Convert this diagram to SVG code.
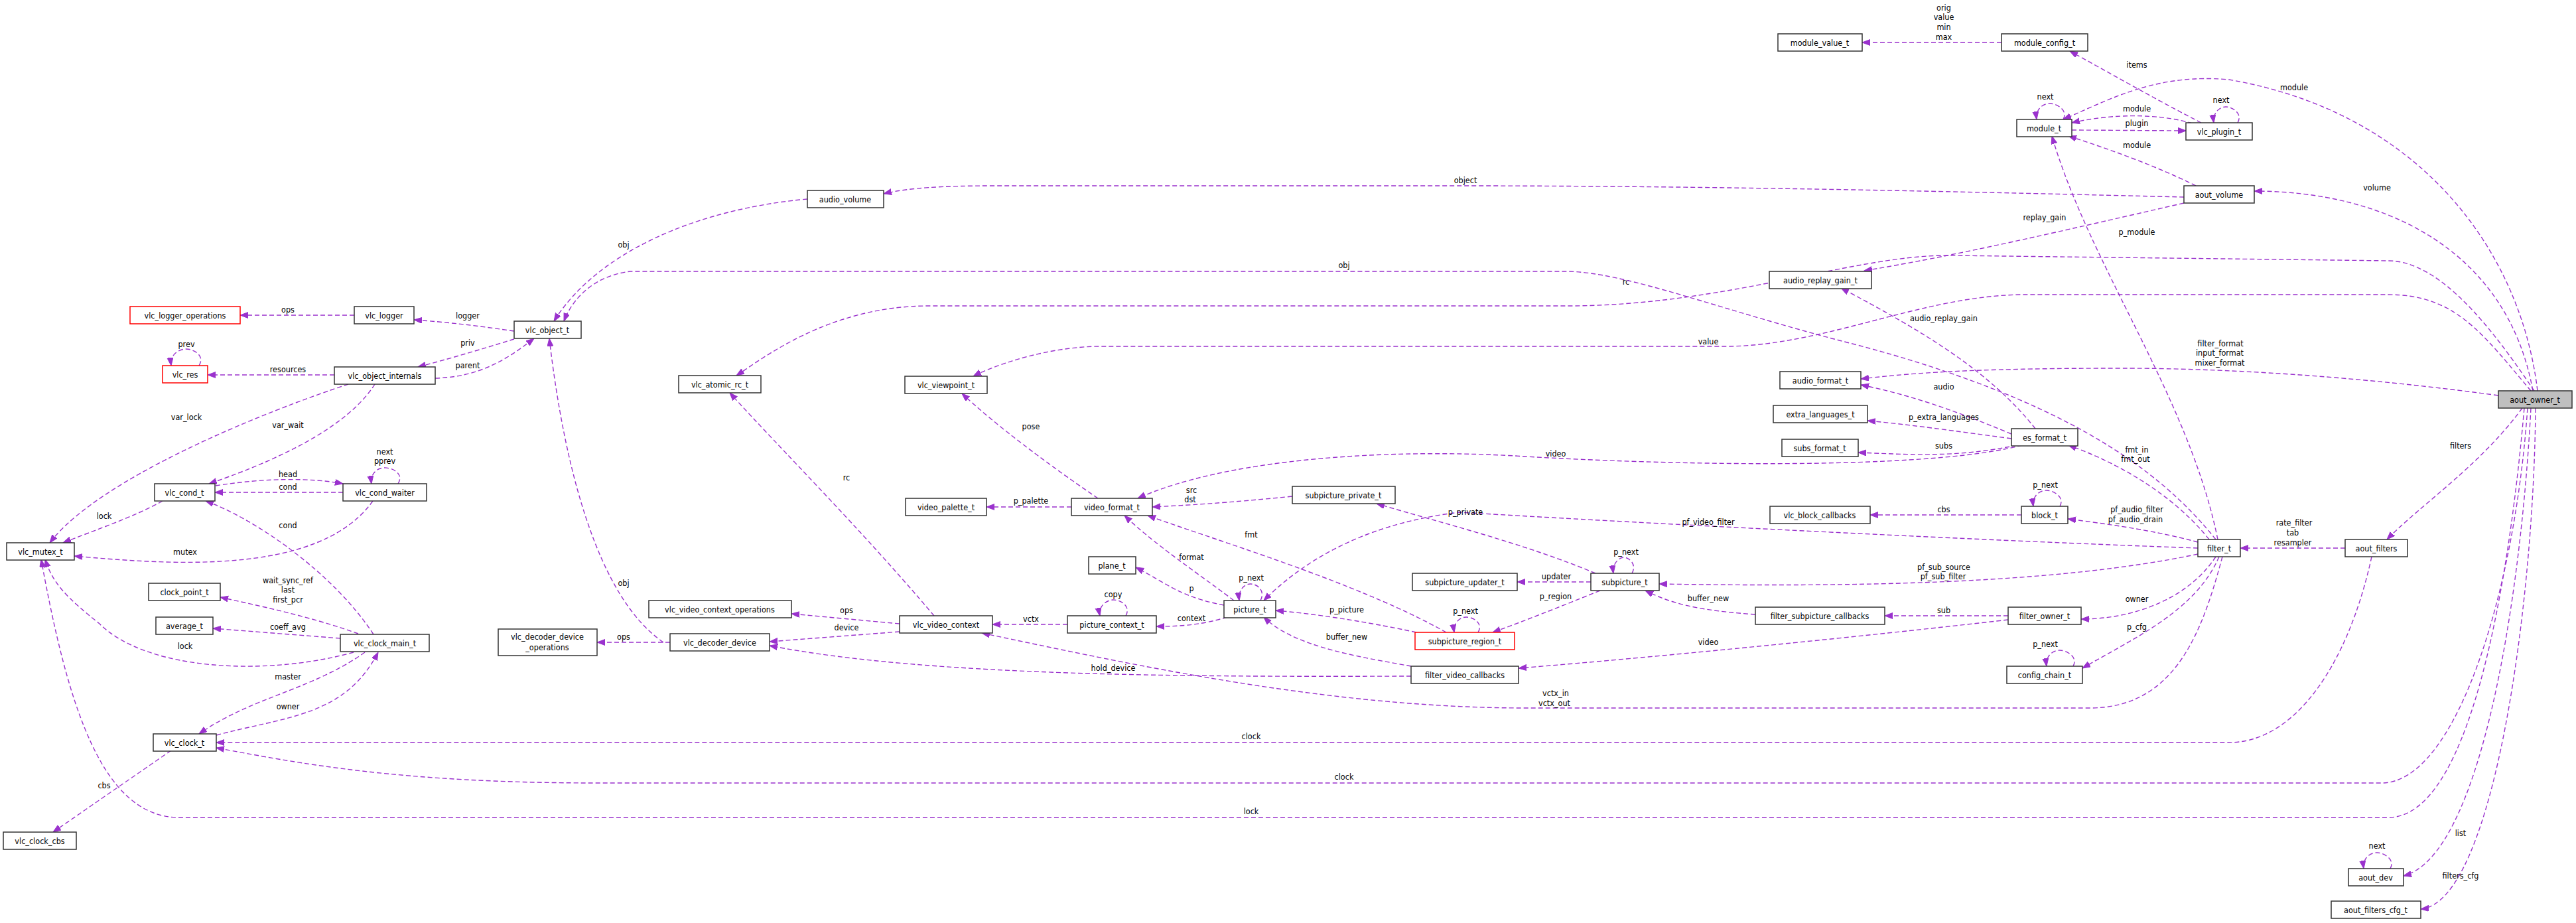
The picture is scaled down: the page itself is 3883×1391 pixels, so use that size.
<svg xmlns="http://www.w3.org/2000/svg" width="3883" height="1391" viewBox="0 0 3883 1391">
<style>
.n rect{fill:#fff;stroke:#333;stroke-width:1.5}
.r rect{stroke:#f00}
.g rect{fill:#bfbfbf}
text{font-family:"DejaVu Sans Condensed","DejaVu Sans","Liberation Sans",sans-serif;font-size:12.5px;fill:#000;text-anchor:middle}
#edges path{fill:none;stroke:#9a32cd;stroke-width:1.4;stroke-dasharray:7,4;marker-end:url(#ah)}
</style>
<defs><marker id="ah" markerUnits="userSpaceOnUse" markerWidth="13" markerHeight="10" refX="12" refY="4.5" orient="auto"><path d="M0,0 L12,4.5 L0,9 z" fill="#9a32cd" stroke="#9a32cd"/></marker></defs>
<rect width="3883" height="1391" fill="#fff"/>
<g id="edges">
<path d="M534,475 L362,475"/><text x="434" y="471">ops</text>
<path d="M775,499 C720,491 680,486 624,482"/><text x="705" y="480">logger</text>
<path d="M775,511 C730,525 680,540 630,553"/><text x="705" y="521">priv</text>
<path d="M656,570 C720,568 760,545 805,510"/><text x="705" y="555">parent</text>
<path d="M504,565 L313,565"/><text x="434" y="561">resources</text>
<path d="M300,551 C310,535 290,525 279,526 C268,527 256,535 258,551"/><text x="281" y="523">prev</text>
<path d="M525,579 C400,620 150,720 75,818"/><text x="281" y="633">var_lock</text>
<path d="M565,579 C520,650 400,700 315,729"/><text x="434" y="645">var_wait</text>
<path d="M600,729 C610,713 590,704 578,705 C567,706 558,715 560,729"/><text x="580" y="685">next</text><text x="580" y="699">pprev</text>
<path d="M325,732 C400,720 470,720 517,729"/><text x="434" y="719">head</text>
<path d="M517,742 L324,742"/><text x="434" y="738">cond</text>
<path d="M245,755 C200,780 140,800 95,818"/><text x="157" y="782">lock</text>
<path d="M562,755 C480,870 250,850 112,838"/><text x="279" y="836">mutex</text>
<path d="M563,956 C500,860 380,780 310,755"/><text x="434" y="796">cond</text>
<path d="M540,955 C470,930 400,915 332,900"/><text x="434" y="879">wait_sync_ref</text><text x="434" y="893">last</text><text x="434" y="908">first_pcr</text>
<path d="M513,962 L321,947"/><text x="434" y="949">coeff_avg</text>
<path d="M533,983 C400,1020 220,1010 150,940 C100,900 80,880 68,843"/><text x="279" y="978">lock</text>
<path d="M550,983 C470,1040 380,1050 300,1106"/><text x="434" y="1024">master</text>
<path d="M326,1108 C430,1080 520,1080 570,983"/><text x="434" y="1069">owner</text>
<path d="M258,1131 L80,1254"/><text x="157" y="1188">cbs</text>
<path d="M1000,968 C900,900 850,700 828,510"/><text x="940" y="883">obj</text>
<path d="M1010,968 L900,968"/><text x="940" y="964">ops</text>
<path d="M1217,300 C1050,315 900,380 835,484"/><text x="940" y="373">obj</text>
<path d="M3292,297 C3000,290 2600,280 2200,280 L1500,280 C1420,280 1370,283 1332,292"/><text x="2209" y="276">object</text>
<path d="M3820,589 C3760,500 3680,393 3600,393 L2940,385 C2800,383 2600,461 2363,461 L1400,461 C1250,461 1150,540 1110,566"/><text x="2451" y="429">rc</text>
<path d="M3340,813 C3250,700 3100,600 2800,520 C2600,470 2450,409 2360,409 L950,409 C900,415 865,445 850,484"/><text x="2026" y="404">obj</text>
<path d="M3815,589 C3740,500 3700,444 3600,444 L3053,444 C2900,444 2750,522 2600,522 L1660,522 C1580,522 1500,550 1467,567"/><text x="2575" y="519">value</text>
<path d="M3825,589 C3800,380 3650,170 3360,120 C3250,110 3180,150 3110,180"/><text x="3458" y="136">module</text>
<path d="M3818,589 C3780,380 3600,288 3398,288"/><text x="3583" y="287">volume</text>
<path d="M3766,596 C3500,560 3300,555 3200,555 C3000,555 2900,560 2805,571"/><text x="3347" y="522">filter_format</text><text x="3346" y="536">input_format</text><text x="3346" y="551">mixer_format</text>
<path d="M3802,615 C3740,700 3650,760 3598,813"/><text x="3709" y="676">filters</text>
<path d="M3810,615 C3790,900 3700,1180 3590,1180 L900,1180 C600,1180 450,1150 326,1127"/><text x="2026" y="1175">clock</text>
<path d="M3805,615 C3780,900 3720,1232 3600,1232 L270,1232 C150,1232 100,1050 62,843"/><text x="1886" y="1227">lock</text>
<path d="M3815,615 C3800,900 3740,1290 3623,1320"/><text x="3709" y="1260">list</text>
<path d="M3822,615 C3820,900 3760,1360 3649,1370"/><text x="3709" y="1324">filters_cfg</text>
<path d="M3575,839 C3540,1000 3460,1119 3360,1119 L326,1119"/><text x="1886" y="1114">clock</text>
<path d="M3535,826 L3377,826"/><text x="3458" y="792">rate_filter</text><text x="3456" y="807">tab</text><text x="3456" y="822">resampler</text>
<path d="M3343,813 C3300,600 3150,400 3093,205"/><text x="3221" y="354">p_module</text>
<path d="M3330,813 C3280,750 3200,700 3118,671"/><text x="3221" y="682">fmt_in</text><text x="3219" y="696">fmt_out</text>
<path d="M3313,817 C3250,800 3180,790 3117,782"/><text x="3221" y="772">pf_audio_filter</text><text x="3219" y="787">pf_audio_drain</text>
<path d="M3313,826 C3000,815 2500,790 2200,772 C2050,790 1960,850 1905,905"/><text x="2575" y="791">pf_video_filter</text>
<path d="M3313,835 C3100,880 2800,885 2501,880"/><text x="2930" y="859">pf_sub_source</text><text x="2929" y="873">pf_sub_filter</text>
<path d="M3340,839 C3300,900 3220,933 3137,933"/><text x="3221" y="907">owner</text>
<path d="M3345,839 C3310,920 3220,960 3139,1007"/><text x="3221" y="949">p_cfg</text>
<path d="M3350,839 C3320,950 3280,1067 3150,1067 L2300,1067 C2000,1067 1700,1000 1480,954"/><text x="2345" y="1049">vctx_in</text><text x="2343" y="1064">vctx_out</text>
<path d="M3032,654 C2950,620 2880,595 2805,580"/><text x="2930" y="587">audio</text>
<path d="M3032,661 C2950,650 2880,640 2815,634"/><text x="2930" y="633">p_extra_languages</text>
<path d="M3040,671 C2950,690 2880,685 2801,682"/><text x="2930" y="676">subs</text>
<path d="M3048,671 C2900,710 2500,700 2300,688 C2100,675 1850,690 1715,751"/><text x="2345" y="688">video</text>
<path d="M3068,646 C3000,560 2900,500 2775,434"/><text x="2930" y="484">audio_replay_gain</text>
<path d="M3027,928 L2841,928"/><text x="2930" y="924">sub</text>
<path d="M3027,934 C2800,960 2500,990 2289,1007"/><text x="2575" y="972">video</text>
<path d="M2646,926 C2560,920 2520,910 2480,890"/><text x="2575" y="906">buffer_new</text>
<path d="M2127,1004 C2050,990 1950,975 1905,930"/><text x="2030" y="964">buffer_new</text>
<path d="M2127,1019 C1800,1020 1400,1020 1160,973"/><text x="1678" y="1011">hold_device</text>
<path d="M2405,864 C2300,820 2180,790 2075,759"/><text x="2209" y="776">p_private</text>
<path d="M2398,877 L2287,877"/><text x="2346" y="873">updater</text>
<path d="M2412,890 C2350,915 2300,935 2250,953"/><text x="2345" y="903">p_region</text>
<path d="M2460,864 C2468,850 2455,840 2448,840 C2440,840 2430,850 2432,864"/><text x="2451" y="836">p_next</text>
<path d="M2228,953 C2236,940 2222,930 2210,930 C2200,930 2190,940 2192,953"/><text x="2209" y="925">p_next</text>
<path d="M2135,953 C2050,935 1980,925 1923,920"/><text x="2030" y="923">p_picture</text>
<path d="M2180,953 C2050,880 1850,820 1730,777"/><text x="1886" y="810">fmt</text>
<path d="M1948,748 C1850,758 1780,762 1737,764"/><text x="1796" y="743">src</text><text x="1794" y="757">dst</text>
<path d="M1615,764 L1487,764"/><text x="1554" y="759">p_palette</text>
<path d="M1655,751 C1580,700 1500,640 1450,593"/><text x="1554" y="647">pose</text>
<path d="M1860,905 C1800,860 1740,820 1695,777"/><text x="1796" y="844">format</text>
<path d="M1845,912 C1780,900 1760,880 1712,855"/><text x="1796" y="891">p</text>
<path d="M1900,905 C1908,890 1895,880 1885,880 C1875,880 1866,890 1868,905"/><text x="1886" y="875">p_next</text>
<path d="M1850,930 C1810,942 1780,944 1743,944"/><text x="1796" y="936">context</text>
<path d="M1697,928 C1705,914 1690,904 1678,904 C1668,904 1655,914 1658,928"/><text x="1678" y="900">copy</text>
<path d="M1609,941 L1496,941"/><text x="1554" y="937">vctx</text>
<path d="M1356,940 L1193,925"/><text x="1276" y="924">ops</text>
<path d="M1356,952 L1160,967"/><text x="1276" y="950">device</text>
<path d="M1408,928 C1300,800 1180,680 1100,592"/><text x="1276" y="724">rc</text>
<path d="M3110,180 C3118,166 3100,156 3090,156 C3078,156 3068,166 3070,180"/><text x="3083" y="150">next</text>
<path d="M3373,185 C3381,171 3365,161 3355,161 C3345,161 3335,171 3337,185"/><text x="3348" y="155">next</text>
<path d="M3123,196 L3295,197"/><text x="3221" y="190">plugin</text>
<path d="M3305,186 C3250,170 3180,172 3123,185"/><text x="3221" y="168">module</text>
<path d="M3318,185 C3250,150 3180,110 3120,77"/><text x="3221" y="102">items</text>
<path d="M3017,64 L2807,64"/><text x="2930" y="16">orig</text><text x="2930" y="30">value</text><text x="2930" y="45">min</text><text x="2930" y="60">max</text>
<path d="M3310,280 C3250,250 3180,225 3118,205"/><text x="3221" y="223">module</text>
<path d="M3292,306 C3100,350 2950,385 2810,408"/><text x="3082" y="332">replay_gain</text>
<path d="M3105,763 C3113,749 3095,739 3085,739 C3073,739 3063,749 3065,763"/><text x="3083" y="735">p_next</text>
<path d="M3047,776 L2819,776"/><text x="2930" y="772">cbs</text>
<path d="M3125,1004 C3133,990 3115,980 3105,980 C3093,980 3083,990 3085,1004"/><text x="3083" y="975">p_next</text>
<path d="M3603,1309 C3611,1295 3593,1285 3583,1285 C3571,1285 3561,1295 3563,1309"/><text x="3583" y="1279">next</text>
</g>
<g id="vlc_logger_operations" class="n r"><rect x="196" y="462" width="166" height="26"/><text x="279" y="480">vlc_logger_operations</text></g>
<g id="vlc_logger" class="n"><rect x="534" y="462" width="90" height="26"/><text x="579" y="480">vlc_logger</text></g>
<g id="vlc_object_t" class="n"><rect x="775" y="484" width="101" height="26"/><text x="825" y="502">vlc_object_t</text></g>
<g id="vlc_res" class="n r"><rect x="245" y="551" width="68" height="26"/><text x="279" y="569">vlc_res</text></g>
<g id="vlc_object_internals" class="n"><rect x="504" y="553" width="152" height="26"/><text x="580" y="571">vlc_object_internals</text></g>
<g id="vlc_cond_t" class="n"><rect x="233" y="729" width="91" height="26"/><text x="278" y="747">vlc_cond_t</text></g>
<g id="vlc_cond_waiter" class="n"><rect x="517" y="729" width="126" height="26"/><text x="580" y="747">vlc_cond_waiter</text></g>
<g id="vlc_mutex_t" class="n"><rect x="10" y="818" width="102" height="26"/><text x="61" y="836">vlc_mutex_t</text></g>
<g id="clock_point_t" class="n"><rect x="224" y="879" width="108" height="26"/><text x="278" y="897">clock_point_t</text></g>
<g id="average_t" class="n"><rect x="235" y="930" width="86" height="26"/><text x="278" y="948">average_t</text></g>
<g id="vlc_clock_main_t" class="n"><rect x="513" y="956" width="134" height="26"/><text x="580" y="974">vlc_clock_main_t</text></g>
<g id="vlc_decoder_device_operations" class="n"><rect x="751" y="948" width="149" height="40"/><text x="825" y="964">vlc_decoder_device</text><text x="825" y="980">_operations</text></g>
<g id="vlc_clock_t" class="n"><rect x="231" y="1106" width="95" height="26"/><text x="278" y="1124">vlc_clock_t</text></g>
<g id="vlc_clock_cbs" class="n"><rect x="5" y="1254" width="110" height="26"/><text x="60" y="1272">vlc_clock_cbs</text></g>
<g id="audio_volume" class="n"><rect x="1217" y="287" width="115" height="26"/><text x="1274" y="305">audio_volume</text></g>
<g id="vlc_atomic_rc_t" class="n"><rect x="1023" y="566" width="124" height="26"/><text x="1085" y="584">vlc_atomic_rc_t</text></g>
<g id="vlc_viewpoint_t" class="n"><rect x="1364" y="567" width="124" height="26"/><text x="1426" y="585">vlc_viewpoint_t</text></g>
<g id="video_palette_t" class="n"><rect x="1365" y="751" width="122" height="26"/><text x="1426" y="769">video_palette_t</text></g>
<g id="video_format_t" class="n"><rect x="1615" y="751" width="122" height="26"/><text x="1676" y="769">video_format_t</text></g>
<g id="plane_t" class="n"><rect x="1641" y="839" width="71" height="26"/><text x="1676" y="857">plane_t</text></g>
<g id="picture_t" class="n"><rect x="1845" y="905" width="78" height="26"/><text x="1884" y="923">picture_t</text></g>
<g id="picture_context_t" class="n"><rect x="1609" y="928" width="134" height="26"/><text x="1676" y="946">picture_context_t</text></g>
<g id="vlc_video_context" class="n"><rect x="1356" y="928" width="140" height="26"/><text x="1426" y="946">vlc_video_context</text></g>
<g id="vlc_video_context_operations" class="n"><rect x="978" y="905" width="215" height="26"/><text x="1085" y="923">vlc_video_context_operations</text></g>
<g id="vlc_decoder_device" class="n"><rect x="1010" y="955" width="150" height="26"/><text x="1085" y="973">vlc_decoder_device</text></g>
<g id="subpicture_private_t" class="n"><rect x="1948" y="733" width="155" height="26"/><text x="2025" y="751">subpicture_private_t</text></g>
<g id="module_value_t" class="n"><rect x="2680" y="51" width="127" height="26"/><text x="2743" y="69">module_value_t</text></g>
<g id="audio_replay_gain_t" class="n"><rect x="2667" y="409" width="154" height="26"/><text x="2744" y="427">audio_replay_gain_t</text></g>
<g id="audio_format_t" class="n"><rect x="2683" y="560" width="122" height="26"/><text x="2744" y="578">audio_format_t</text></g>
<g id="extra_languages_t" class="n"><rect x="2673" y="611" width="142" height="26"/><text x="2744" y="629">extra_languages_t</text></g>
<g id="subs_format_t" class="n"><rect x="2686" y="662" width="115" height="26"/><text x="2743" y="680">subs_format_t</text></g>
<g id="vlc_block_callbacks" class="n"><rect x="2668" y="763" width="151" height="26"/><text x="2743" y="781">vlc_block_callbacks</text></g>
<g id="subpicture_updater_t" class="n"><rect x="2129" y="864" width="158" height="26"/><text x="2208" y="882">subpicture_updater_t</text></g>
<g id="subpicture_t" class="n"><rect x="2398" y="864" width="103" height="26"/><text x="2449" y="882">subpicture_t</text></g>
<g id="filter_subpicture_callbacks" class="n"><rect x="2646" y="915" width="195" height="26"/><text x="2743" y="933">filter_subpicture_callbacks</text></g>
<g id="subpicture_region_t" class="n r"><rect x="2133" y="953" width="150" height="26"/><text x="2208" y="971">subpicture_region_t</text></g>
<g id="filter_video_callbacks" class="n"><rect x="2127" y="1004" width="162" height="26"/><text x="2208" y="1022">filter_video_callbacks</text></g>
<g id="module_config_t" class="n"><rect x="3017" y="51" width="130" height="26"/><text x="3082" y="69">module_config_t</text></g>
<g id="module_t" class="n"><rect x="3040" y="180" width="83" height="26"/><text x="3081" y="198">module_t</text></g>
<g id="vlc_plugin_t" class="n"><rect x="3295" y="185" width="100" height="26"/><text x="3345" y="203">vlc_plugin_t</text></g>
<g id="aout_volume" class="n"><rect x="3292" y="280" width="106" height="26"/><text x="3345" y="298">aout_volume</text></g>
<g id="aout_owner_t" class="n g"><rect x="3766" y="589" width="111" height="26"/><text x="3821" y="607">aout_owner_t</text></g>
<g id="es_format_t" class="n"><rect x="3032" y="646" width="100" height="26"/><text x="3082" y="664">es_format_t</text></g>
<g id="block_t" class="n"><rect x="3047" y="763" width="70" height="26"/><text x="3082" y="781">block_t</text></g>
<g id="filter_t" class="n"><rect x="3313" y="813" width="64" height="26"/><text x="3345" y="831">filter_t</text></g>
<g id="aout_filters" class="n"><rect x="3535" y="813" width="94" height="26"/><text x="3582" y="831">aout_filters</text></g>
<g id="filter_owner_t" class="n"><rect x="3027" y="915" width="110" height="26"/><text x="3082" y="933">filter_owner_t</text></g>
<g id="config_chain_t" class="n"><rect x="3025" y="1004" width="114" height="26"/><text x="3082" y="1022">config_chain_t</text></g>
<g id="aout_dev" class="n"><rect x="3540" y="1309" width="83" height="26"/><text x="3581" y="1327">aout_dev</text></g>
<g id="aout_filters_cfg_t" class="n"><rect x="3514" y="1358" width="135" height="26"/><text x="3581" y="1376">aout_filters_cfg_t</text></g>
</svg>
